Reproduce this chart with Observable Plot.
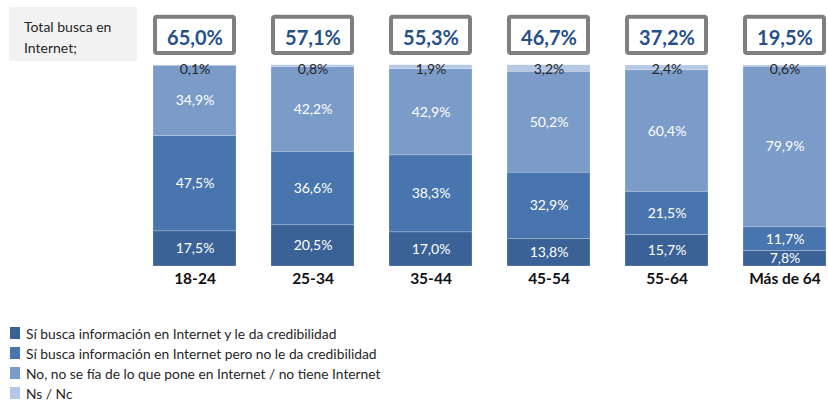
<!DOCTYPE html>
<html>
<head>
<meta charset="utf-8">
<script src="https://cdn.jsdelivr.net/npm/d3@7"></script>
<script src="https://cdn.jsdelivr.net/npm/@observablehq/plot@0.6"></script>
<style>
  html, body { margin: 0; padding: 0; background: #fff; }
  body { width: 828px; height: 401px; overflow: hidden; font-family: Lato, "Noto Sans", sans-serif; }
  #wrap { position: relative; width: 828px; }
  #totalbox { position: absolute; left: 9px; top: 7px; width: 128px; height: 54px; background: #f2f2f2;
    box-sizing: border-box; padding: 9px 0 0 15px; font-size: 14px; line-height: 21px; color: #262626; }
  #legend { padding: 13px 0 0 10px; }
  .row { display: flex; align-items: center; height: 20px; font-size: 13.8px; color: #262626; }
  .sw { width: 10px; height: 12px; margin-right: 6px; flex: none; }
</style>
</head>
<body>
<div id="wrap">
  <div id="chart"></div>
  <div id="totalbox">Total busca en<br>Internet;</div>
  <div id="legend"></div>
</div>
<script>
const categories = ["18-24", "25-34", "35-44", "45-54", "55-64", "Más de 64"];
const series = [
  "Sí busca información en Internet y le da credibilidad",
  "Sí busca información en Internet pero no le da credibilidad",
  "No, no se fía de lo que pone en Internet / no tiene Internet",
  "Ns / Nc"
];
const credible    = [17.5, 20.5, 17.0, 13.8, 15.7, 7.8];
const notCredible = [47.5, 36.6, 38.3, 32.9, 21.5, 11.7];
const noTrust     = [34.9, 42.2, 42.9, 50.2, 60.4, 79.9];
const nsnc        = [0.1, 0.8, 1.9, 3.2, 2.4, 0.6];
const totals      = [65.0, 57.1, 55.3, 46.7, 37.2, 19.5];
const colors = ["#3b6296", "#4875ae", "#7b9bc9", "#b4c7e7"];

const seriesValues = [credible, notCredible, noTrust, nsnc];
const rows = [];
categories.forEach((c, i) => {
  series.forEach((s, j) => rows.push({cat: c, series: s, value: seriesValues[j][i], idx: j}));
});
const totalRows = categories.map((c, i) => ({cat: c, total: totals[i]}));
const fmt = v => v.toFixed(1).replace(".", ",") + "%";

const chart = Plot.plot({
  width: 828,
  height: 310,
  marginTop: 0, marginLeft: 0, marginRight: 0, marginBottom: 40,
  style: {fontFamily: "Lato, 'Noto Sans', sans-serif", background: "transparent"},
  x: {domain: categories, range: [152, 827.5], paddingInner: 0.3, paddingOuter: 0, axis: null},
  y: {domain: [0, 100], range: [266, 65], axis: null},
  color: {domain: series, range: colors},
  marks: [
    Plot.barY(rows, {x: "cat", y: "value", fill: "series", stroke: "#ffffff", strokeOpacity: 0.35, strokeWidth: 0.6}),
    Plot.text(rows, Plot.stackY({x: "cat", y: "value",
      text: d => d.idx < 3 ? fmt(d.value) : "", fill: "#ffffff", fontSize: 14})),
    Plot.text(rows, Plot.stackY2({x: "cat", y: "value",
      text: d => d.idx === 3 ? fmt(d.value) : "", fill: "#262626", fontSize: 14, dy: 4})),
    Plot.barY(totalRows, {x: "cat", y1: 105, y2: 125, fill: "#ffffff", stroke: "#7f7f7f", strokeWidth: 4, inset: 2, rx: 2}),
    Plot.text(totalRows, {x: "cat", y: 115, text: d => fmt(d.total), fill: "#25508a",
      fontSize: 20, fontWeight: "bold", dy: 3}),
    Plot.axisX({anchor: "bottom", label: null, tickSize: 0, tickPadding: 2, fontSize: 15.5, fontWeight: "bold", color: "#111"})
  ]
});
document.getElementById("chart").appendChild(chart);

const scale = chart.scale("color");
const legend = document.getElementById("legend");
series.forEach(s => {
  const row = document.createElement("div");
  row.className = "row";
  const sw = document.createElement("span");
  sw.className = "sw";
  sw.style.background = scale.apply(s);
  const t = document.createElement("span");
  t.textContent = s;
  row.appendChild(sw);
  row.appendChild(t);
  legend.appendChild(row);
});
</script>
</body>
</html>
